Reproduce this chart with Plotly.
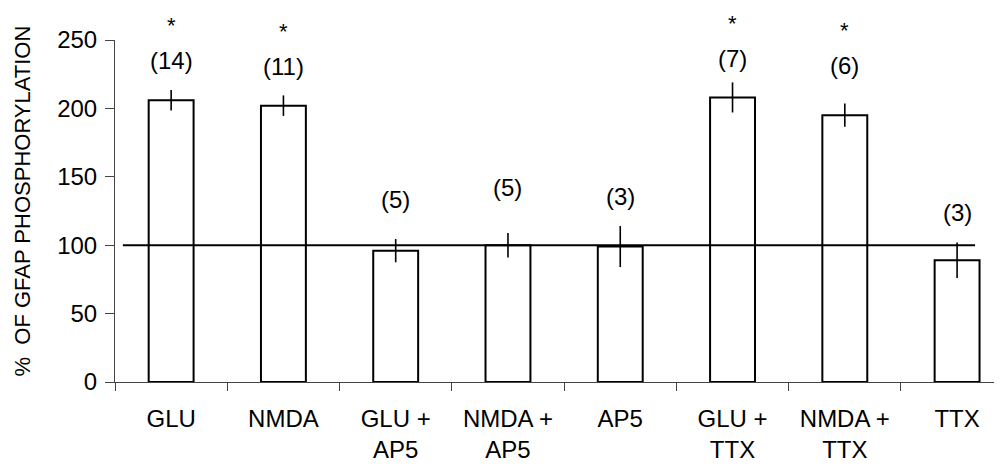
import plotly.graph_objects as go

categories = ["GLU", "NMDA", "GLU +<br>AP5", "NMDA +<br>AP5", "AP5", "GLU +<br>TTX", "NMDA +<br>TTX", "TTX"]
values = [206, 202, 96, 100, 99, 208, 195, 89]
errors = [7.5, 7.5, 8.5, 9, 15, 11, 8.5, 13]
n_labels = ["(14)", "(11)", "(5)", "(5)", "(3)", "(7)", "(6)", "(3)"]
significant = [True, True, False, False, False, True, True, False]
y_ticks = [0, 50, 100, 150, 200, 250]
baseline = 100
y_title = "%  OF GFAP PHOSPHORYLATION"

# style: pixel offsets of the n labels above the error-bar tops
label_shift_px = [29, 29, 40, 45, 30, 24, 38, 30]
star_gap_px = 35

FONT = "Liberation Sans, Arial, sans-serif"

fig = go.Figure()
fig.add_trace(go.Bar(
    x=categories, y=values, width=0.4,
    marker=dict(color="white", line=dict(color="black", width=2)),
    error_y=dict(type="data", array=errors, visible=True, width=0, thickness=1.6, color="black"),
    showlegend=False,
))

annotations = []
for i, cat in enumerate(categories):
    top = values[i] + errors[i]
    annotations.append(dict(x=cat, y=top, xref="x", yref="y", text=n_labels[i], showarrow=False,
                            yanchor="middle", yshift=label_shift_px[i],
                            font=dict(family=FONT, size=24, color="black")))
    if significant[i]:
        annotations.append(dict(x=cat, y=top, xref="x", yref="y", text="*", showarrow=False,
                                yanchor="middle", yshift=label_shift_px[i] + star_gap_px,
                                font=dict(family=FONT, size=22, color="black")))

# y-axis title as rotated annotation (placed slightly above the plot centre, as in the original)
annotations.append(dict(x=-0.104, y=0.53, xref="paper", yref="paper", text=y_title,
                        textangle=-90, showarrow=False, xanchor="center", yanchor="middle",
                        font=dict(family=FONT, size=22, color="black")))

fig.add_shape(type="line", xref="x", yref="y", x0=-0.43, x1=7.16, y0=baseline, y1=baseline,
              line=dict(color="black", width=2), layer="above")

fig.update_layout(
    width=994, height=458,
    margin=dict(l=107, r=0, t=32, b=84),
    plot_bgcolor="white", paper_bgcolor="white",
    font=dict(family=FONT, size=24, color="black"),
    annotations=annotations,
    xaxis=dict(
        type="category", range=[-0.5, 7.4], tickson="boundaries",
        ticks="outside", ticklen=8, tickwidth=1, tickcolor="#444",
        showline=True, linecolor="#444", linewidth=1, automargin=False,
        showgrid=False, zeroline=False, ticklabelstandoff=15,
        tickfont=dict(family=FONT, size=24, color="black"),
    ),
    yaxis=dict(
        range=[0, 250], tickvals=y_ticks, automargin=False,
        ticks="outside", ticklen=9, tickwidth=1, tickcolor="#444",
        showline=True, linecolor="#444", linewidth=1,
        showgrid=False, zeroline=False, ticklabelstandoff=3,
        tickfont=dict(family=FONT, size=24, color="black"),
    ),
)

fig.write_html("out.html")
